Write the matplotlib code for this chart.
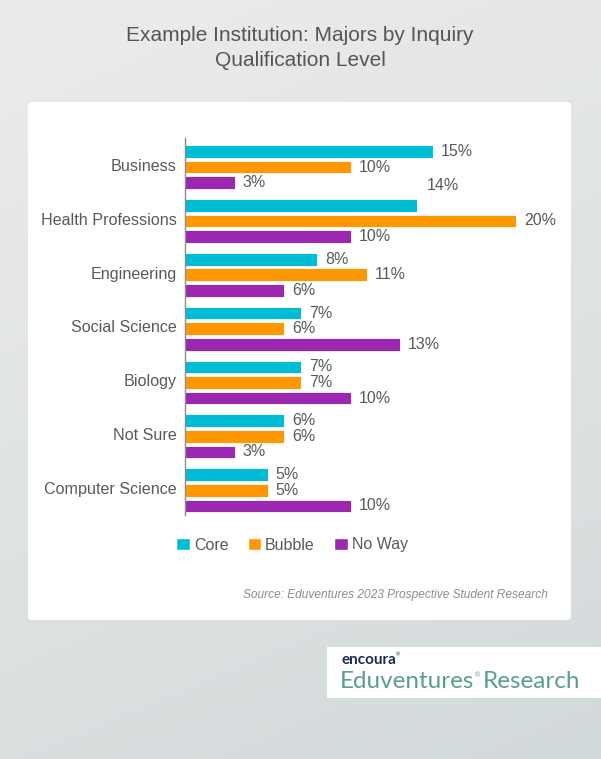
import matplotlib.pyplot as plt
import numpy as np
from matplotlib.patches import FancyBboxPatch, Rectangle, Patch

# data
majors = ['Business', 'Health Professions', 'Engineering', 'Social Science',
          'Biology', 'Not Sure', 'Computer Science']
core = [15, 14, 8, 7, 7, 6, 5]
bubble = [10, 20, 11, 6, 7, 6, 5]
no_way = [3, 10, 6, 13, 10, 3, 10]
series_names = ['Core', 'Bubble', 'No Way']
colors = ['#00BCD4', '#FF9800', '#9C27B0']

title = 'Example Institution: Majors by Inquiry\nQualification Level'
source = 'Source: Eduventures 2023 Prospective Student Research'

plt.rcParams['font.family'] = ['Liberation Sans', 'DejaVu Sans']
W, H = 601, 759
fig = plt.figure(figsize=(W / 100, H / 100), dpi=100)

# background gradient
bg = fig.add_axes([0, 0, 1, 1])
yy, xx = np.mgrid[0:1:200j, 0:1:200j]
t = np.clip(0.75 * yy + 0.25 * xx, 0, 1)
top = np.array([236, 236, 236]) / 255
bot = np.array([211, 218, 219]) / 255
img = top[None, None, :] * (1 - t[..., None]) + bot[None, None, :] * t[..., None]
bg.imshow(img, extent=[0, W, H, 0], aspect='auto')
bg.set_xlim(0, W)
bg.set_ylim(H, 0)
bg.axis('off')

# white card and logo box
bg.add_patch(FancyBboxPatch((28, 102), 543, 518, boxstyle='round,pad=0,rounding_size=4',
                            fc='white', ec='none'))
bg.add_patch(Rectangle((327, 647), 274, 51, fc='white', ec='none'))

bg.text(300, 48, title, ha='center', va='center', fontsize=15, color='#555555',
        linespacing=1.35)
bg.text(548, 595, source, ha='right', va='center', fontsize=8.6, color='#8c8c8c',
        style='italic')
bg.text(341, 660, 'encoura', ha='left', va='center', fontsize=11, color='#1c2b4b',
        fontweight='bold', family=['Lato', 'DejaVu Sans'])
bg.text(396, 655, '\u00ae', ha='left', va='center', fontsize=4, color='#1c2b4b')

logo_kw = dict(va='center', fontsize=17.5, color='#5a9e90', family=['Lato', 'DejaVu Sans'])
t1 = bg.text(340, 682, 'Eduventures', ha='left', **logo_kw)
fig.canvas.draw()
x_end = bg.transData.inverted().transform(t1.get_window_extent().get_points())[1, 0]
bg.text(x_end + 0.5, 676, '\u00ae', ha='left', va='center', fontsize=5, color='#5a9e90')
bg.text(x_end + 8, 682, 'Research', ha='left', **logo_kw)

# main chart
ax_left, ax_right = 185, 185 + 22 * 16.55
ax_top, ax_bot = 138, 515
ax = fig.add_axes([ax_left / W, 1 - ax_bot / H, (ax_right - ax_left) / W, (ax_bot - ax_top) / H])
ax.patch.set_alpha(0)
y = np.arange(len(majors))
offsets = [-0.25, 0.04, 0.33]
bh = 0.235
for vals, off, col in zip([core, bubble, no_way], offsets, colors):
    bars = ax.barh(y + off, vals, height=bh, color=col, edgecolor='white', linewidth=0.6)
    for b, v in zip(bars, vals):
        dx, dy = 8, 0
        if col == colors[0] and v == 14:
            dx, dy = 10, 20  # this label sits above its bar in the original
        ax.annotate(f'{v}%', (b.get_width(), b.get_y() + b.get_height() / 2),
                    xytext=(dx * 0.72, dy * 0.72), textcoords='offset points',
                    ha='left', va='center', fontsize=11.5, color='#595959',
                    annotation_clip=False)

ax.set_xlim(0, 22)
ax.set_ylim(len(majors) - 0.5, -0.5)
ax.set_yticks(y)
ax.set_yticklabels(majors, fontsize=11.6, color='#595959')
ax.tick_params(axis='y', length=0, pad=6)
ax.set_xticks([])
for s in ['top', 'right', 'bottom']:
    ax.spines[s].set_visible(False)
ax.spines['left'].set_color('#8c8c8c')
ax.spines['left'].set_linewidth(1)

handles = [Patch(facecolor=c, edgecolor='white') for c in colors]
fig.legend(handles, series_names, loc='center', bbox_to_anchor=(292 / W, 1 - 545 / H),
           ncol=3, frameon=False, fontsize=11.5, handlelength=0.85, handleheight=0.85,
           handletextpad=0.25, columnspacing=1.2, labelcolor='#595959')

fig.savefig('out.png', dpi=100)
